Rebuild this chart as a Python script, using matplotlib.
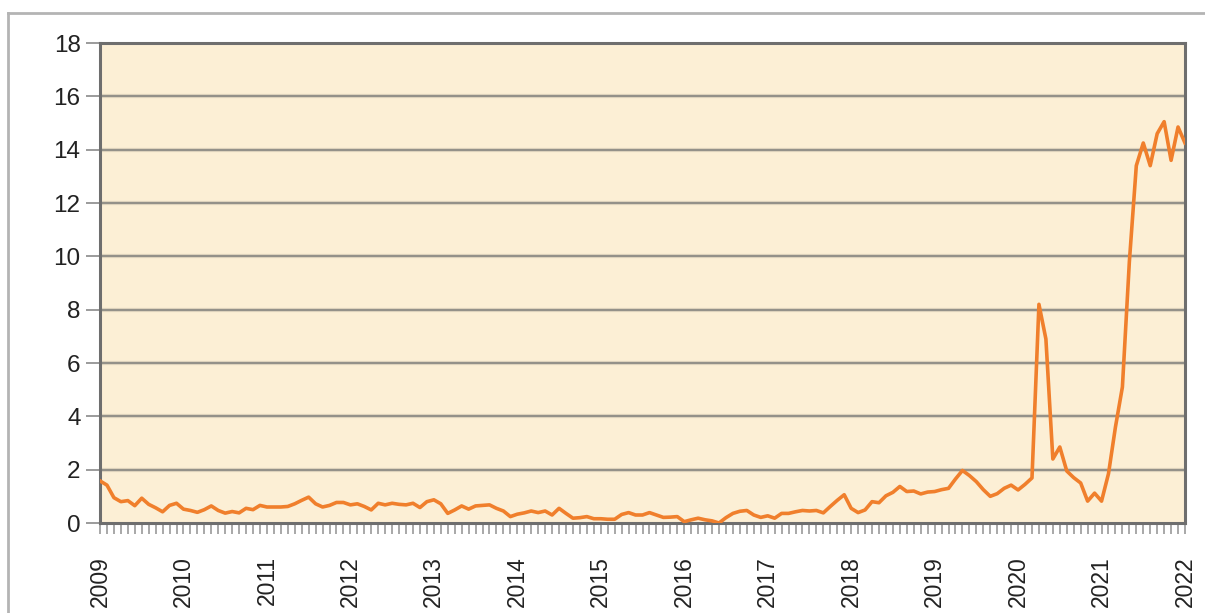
import numpy as np
import matplotlib
matplotlib.use("Agg")
import matplotlib.pyplot as plt
import matplotlib.ticker as tick
from matplotlib.lines import Line2D

plt.rcParams['font.family'] = ['Liberation Sans', 'DejaVu Sans']

# monthly values, Jan 2009 .. Jan 2022
v2009 = [1.58, 1.42, 0.95, 0.80, 0.84, 0.65, 0.93, 0.70, 0.57, 0.42, 0.66, 0.74]
v2010 = [0.52, 0.47, 0.40, 0.50, 0.64, 0.47, 0.37, 0.43, 0.38, 0.55, 0.50, 0.66]
v2011 = [0.60, 0.60, 0.60, 0.62, 0.72, 0.85, 0.97, 0.72, 0.60, 0.66, 0.77, 0.77]
v2012 = [0.68, 0.72, 0.62, 0.49, 0.74, 0.68, 0.74, 0.70, 0.68, 0.74, 0.58, 0.80]
v2013 = [0.87, 0.72, 0.36, 0.49, 0.64, 0.52, 0.64, 0.66, 0.68, 0.55, 0.45, 0.24]
v2014 = [0.33, 0.38, 0.45, 0.39, 0.45, 0.30, 0.55, 0.36, 0.18, 0.20, 0.24, 0.16]
v2015 = [0.16, 0.14, 0.14, 0.32, 0.39, 0.30, 0.30, 0.39, 0.30, 0.21, 0.22, 0.24]
v2016 = [0.05, 0.12, 0.18, 0.12, 0.08, 0.00, 0.20, 0.36, 0.44, 0.47, 0.30, 0.21]
v2017 = [0.27, 0.18, 0.36, 0.36, 0.42, 0.47, 0.45, 0.47, 0.38, 0.62, 0.85, 1.06]
v2018 = [0.55, 0.39, 0.49, 0.80, 0.76, 1.02, 1.15, 1.37, 1.18, 1.20, 1.09, 1.16]
v2019 = [1.18, 1.25, 1.30, 1.65, 1.97, 1.78, 1.55, 1.25, 1.00, 1.10, 1.30, 1.42]
v2020 = [1.24, 1.45, 1.69, 8.20, 6.90, 2.40, 2.85, 1.95, 1.70, 1.50, 0.82, 1.12]
v2021 = [0.82, 1.85, 3.60, 5.10, 9.80, 13.40, 14.25, 13.40, 14.60, 15.05, 13.60, 14.85]
v2022 = [14.25]

values = np.array(v2009 + v2010 + v2011 + v2012 + v2013 + v2014 + v2015 +
                  v2016 + v2017 + v2018 + v2019 + v2020 + v2021 + v2022)
t = 2009 + np.arange(len(values)) / 12.0
years = list(range(2009, 2023))

fig = plt.figure(figsize=(12.05, 6.13), dpi=100)
ax = fig.add_axes([100/1205, 1-523/613, 1085/1205, 480/613])
ax.set_facecolor('#fcefd5')

# outer frame of the chart panel
fig.add_artist(Line2D([8/1205, 8/1205], [0, 1-13/613], color='#b4b4b4', lw=2))
fig.add_artist(Line2D([8/1205, 1], [1-13/613, 1-13/613], color='#b4b4b4', lw=2))

for yv in range(2, 18, 2):
    ax.axhline(yv, color='#ddd2bc', lw=3.0, zorder=1)
    ax.axhline(yv, color='#7e7e7a', lw=1.1, zorder=1)

ax.plot(t, values, color='#f07f2c', lw=2.6, zorder=3, solid_joinstyle='round')

ax.set_xlim(2009, 2022)
ax.set_ylim(0, 18)
ax.set_yticks(range(0, 19, 2))
ax.set_xticks(years)
ax.set_xticklabels([str(y) for y in years], rotation=90)
ax.xaxis.set_minor_locator(tick.MultipleLocator(1/12))

ax.tick_params(axis='y', length=10, width=1.2, color='#8a8a8a', labelsize=17.5,
               labelcolor='#222222', pad=4)
ax.tick_params(axis='x', which='both', length=8, width=1.2, color='#9a9a9a',
               labelsize=16.5, labelcolor='#222222', pad=16)

for s in ax.spines.values():
    s.set_color('#6e6e6e')
    s.set_linewidth(2.2)

fig.savefig("out.png", dpi=100)
